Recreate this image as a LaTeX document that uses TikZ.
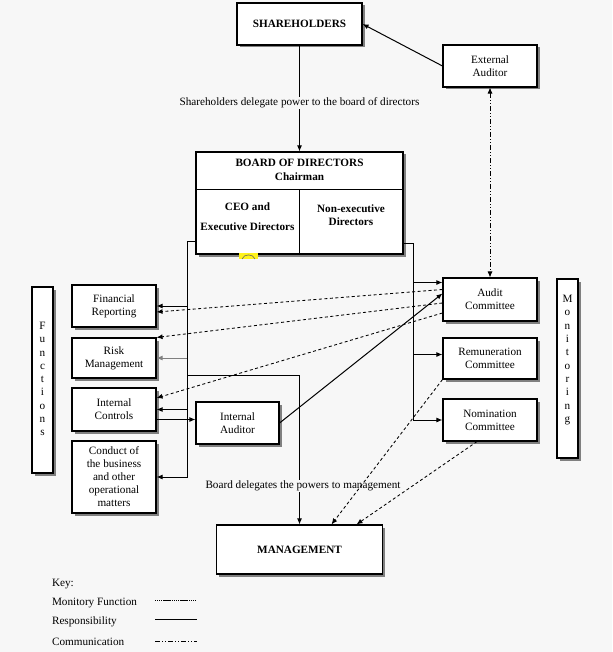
\documentclass[tikz,border=0pt]{standalone}
\usepackage{fontspec}
\setmainfont{Liberation Serif}
\usetikzlibrary{arrows.meta,shadows,calc}
\definecolor{bgc}{RGB}{247,247,247}
\begin{document}
\begin{tikzpicture}[x=1pt,y=-1pt,
  every node/.style={font=\fontsize{11.2}{13}\selectfont},
  box/.style={draw, fill=white, line width=1.1pt, align=center, inner sep=0pt,
    drop shadow={shadow xshift=2.5pt, shadow yshift=-2.5pt, fill=black!50, opacity=1}},
  bfont/.style={font=\bfseries\fontsize{11.2}{13}\selectfont},
  lbl/.style={fill=bgc, inner sep=1pt},
  tip/.style={-{Latex[length=6pt,width=5pt]}},
  con/.style={line width=1pt},
  mon/.style={line width=0.85pt, dash pattern=on 3pt off 2.5pt},
  com/.style={line width=0.85pt, dash pattern=on 5pt off 2pt on 1pt off 2pt on 1pt off 2pt},
  keymon/.style={line width=0.85pt, dash pattern=on 1pt off 1pt on 1pt off 1pt on 1pt off 1pt on 1pt off 1pt on 8pt off 1pt}
]
\fill[bgc] (0,0) rectangle (612,652);
\useasboundingbox (0,0) rectangle (612,652);

% main boxes
\node[box, bfont, minimum width=125pt, minimum height=42pt] (SH) at (299.5,24) {SHAREHOLDERS};
\node[box, minimum width=94pt, minimum height=42pt] (EA) at (490,66) {External\\Auditor};
\node[box, minimum width=207pt, minimum height=102pt] (BD) at (299.5,203) {};
\coordinate (bdiv) at (299,190);
\draw[line width=1pt] (BD.west |- bdiv) -- (BD.east |- bdiv);
\draw[line width=1pt] (bdiv) -- (bdiv |- BD.south);
\node[align=center, font=\bfseries\fontsize{11.2}{14}\selectfont] (BDt) at (299.5,170) {BOARD OF DIRECTORS\\Chairman};
\node[align=center, font=\bfseries\fontsize{11.2}{20}\selectfont] (CEO) at (247.5,217) {CEO and\\Executive Directors};
\node[align=center, font=\bfseries\fontsize{11.2}{13.3}\selectfont] (NED) at (351,215) {Non-executive\\Directors};

% yellow mark
\fill[yellow!90!white] (239,252.5) rectangle (258,259);
\draw[black!60, line width=0.6pt] (242,259) .. controls (244,253.5) and (253,253.5) .. (255,259);

% functions
\node[box, minimum width=84pt, minimum height=42pt] (FR) at (114,306) {Financial\\Reporting};
\node[box, minimum width=84pt, minimum height=40pt] (RM) at (114,358) {Risk\\Management};
\node[box, minimum width=84pt, minimum height=43pt] (IC) at (114,409.5) {Internal\\Controls};
\node[box, minimum width=84pt, minimum height=72pt] (CB) at (114,477) {Conduct of\\the business\\and other\\operational\\matters};
\node[box, minimum width=21pt, minimum height=186pt] (FN) at (42.5,380) {};
\node[align=center, font=\fontsize{11.2}{13.3}\selectfont] (FNt) at (42.5,379) {F\\u\\n\\c\\t\\i\\o\\n\\s};

% committees
\node[box, minimum width=94pt, minimum height=43pt] (AC) at (490,299.5) {Audit\\Committee};
\node[box, minimum width=94pt, minimum height=41pt] (RC) at (490,358.5) {Remuneration\\Committee};
\node[box, minimum width=94pt, minimum height=42pt] (NC) at (490,420) {Nomination\\Committee};
\node[box, minimum width=21pt, minimum height=179pt] (MO) at (567.5,368.5) {};
\node[align=center, font=\fontsize{11.2}{13.3}\selectfont] (MOt) at (567.5,360) {M\\o\\n\\i\\t\\o\\r\\i\\n\\g};

\node[box, minimum width=83pt, minimum height=42pt] (IA) at (237.5,423) {Internal\\Auditor};
\node[box, bfont, minimum width=166pt, minimum height=49pt] (MG) at (299.5,549.5) {MANAGEMENT};

% shareholders -> board
\draw[con,tip] (SH) -- (BD);
\node[lbl] (t1) at (299.5,103) {Shareholders delegate power to the board of directors};
\draw[con,tip] (EA.west) -- (SH.east);
\draw[com,{Latex[length=6pt,width=5pt]}-{Latex[length=6pt,width=5pt]}] (EA) -- (AC);

% left bus
\coordinate (lb) at (187,241);
\draw[con,tip] (BD.west |- lb) -- (lb) |- (CB.east);
\draw[con,tip] (lb |- FR.east) -- (FR.east);
\draw[con,tip,draw=black!50] (lb |- RM.east) -- (RM.east);
\draw[con,tip] (lb |- IC.east) -- (IC.east);
\coordinate (mt) at (299.5,375);
\draw[con,tip] (lb |- mt) -- (mt) -- (MG.north);
\node[lbl] (t2) at (303,486) {Board delegates the powers to management};

% internal controls / internal auditor
\coordinate (ic2) at ([yshift=-10pt]IC.east);
\draw[con,tip] (ic2) -- (ic2 -| IA.west);
\draw[con,tip] (IA.east) -- ([yshift=6pt]AC.west);

% right bus
\coordinate (rb) at (413,243);
\draw[con] (BD.east |- rb) -- (rb) -- (rb |- NC.west);
\coordinate (ac1) at ([yshift=17pt]AC.west);
\coordinate (rc1) at ([yshift=4pt]RC.west);
\draw[con,tip] (rb |- ac1) -- (ac1);
\draw[con,tip] (rb |- rc1) -- (rc1);
\draw[con,tip] (rb |- NC.west) -- (NC.west);

% monitoring (dashed)
\coordinate (am1) at ([yshift=10pt]AC.west);
\coordinate (am2) at ([yshift=-3.5pt]AC.west);
\coordinate (am3) at ([yshift=-13.5pt]AC.west);
\draw[mon,tip] (am1) -- ([yshift=-6pt]FR.east);
\draw[mon,tip] (am2) -- (RM.north east);
\draw[mon,tip] (am3) -- ([yshift=11.5pt]IC.east);
\draw[mon,tip] (RC.south west) -- ([xshift=32pt]MG.north);
\draw[mon,tip] ([xshift=-13pt]NC.south) -- ([xshift=57pt]MG.north);

% key
\node[anchor=west] (k0) at (48.5,584) {Key:};
\node[anchor=west] (k1) at (48.5,603) {Monitory Function};
\node[anchor=west] (k2) at (48.5,622) {Responsibility};
\node[anchor=west] (k3) at (48.5,642) {Communication};
\coordinate (ka1) at (155,600); \coordinate (kb1) at (197,600);
\coordinate (ka2) at (155,619); \coordinate (kb2) at (197,619);
\coordinate (ka3) at (155,641); \coordinate (kb3) at (197,641);
\draw[keymon] (ka1) -- (kb1);
\draw[con] (ka2) -- (kb2);
\draw[com] (ka3) -- (kb3);
\end{tikzpicture}
\end{document}
